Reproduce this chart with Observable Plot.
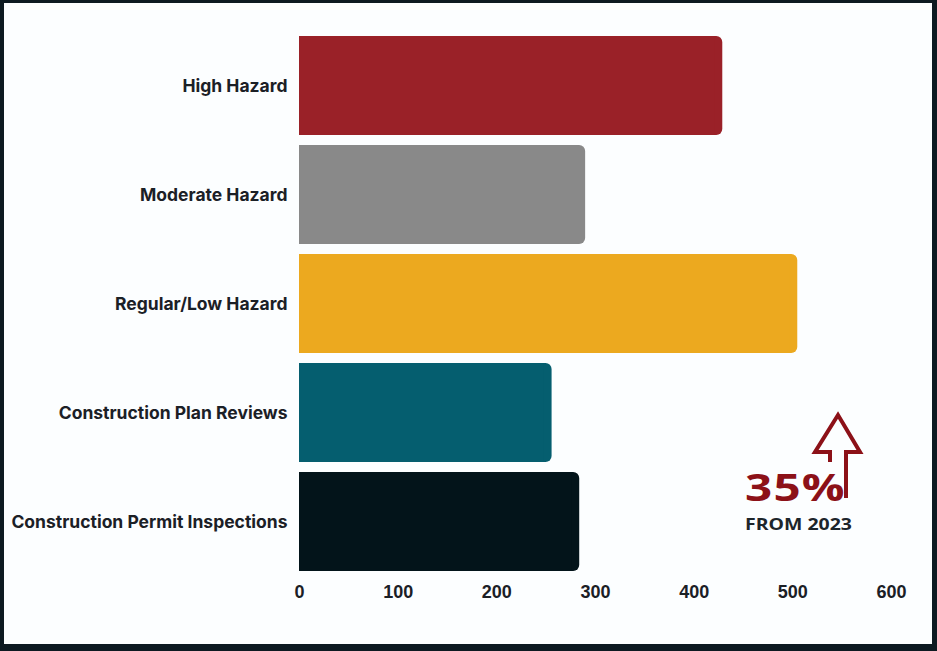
<!DOCTYPE html>
<html>
<head>
<meta charset="utf-8">
<script src="https://cdn.jsdelivr.net/npm/d3@7"></script>
<script src="https://cdn.jsdelivr.net/npm/@observablehq/plot@0.6"></script>
<style>
  html, body { margin: 0; padding: 0; }
  body { width: 937px; height: 651px; background: #0d1a21; position: relative; overflow: hidden; }
  #frame { position: absolute; left: 4px; top: 3px; width: 928px; height: 641px; background: #fcfeff; }
  #chart svg { position: absolute; left: 0; top: 0; background: transparent; }
  #chart g[aria-label="y-axis tick label"] text { font-family: Inter, "Noto Sans", sans-serif; font-weight: 700; font-size: 17.5px; fill: #1b2026; }
  #chart g[aria-label="x-axis tick label"] text { font-family: "Liberation Sans", Arial, sans-serif; font-weight: 700; font-size: 18px; fill: #1b2026; }
  #annot { position: absolute; left: 0; top: 0; }
</style>
</head>
<body>
<div id="frame">
  <div id="chart"></div>
  <svg id="annot" width="928" height="641">
    <path d="M826,459 L826,449 L811,449 L834,412 L856,449 L842,449 L842,495" fill="none" stroke="#8c1118" stroke-width="4" stroke-linejoin="miter"/>
    <text x="741" y="498" transform="translate(741 0) scale(1.25 1) translate(-741 0)" font-family="'Open Sans', sans-serif" font-weight="700" font-size="38" fill="#8c1118" letter-spacing="1">35%</text>
    <text x="741" y="527" transform="translate(741 0) scale(1.18 1) translate(-741 0)" font-family="'Open Sans', sans-serif" font-weight="700" font-size="16.5" fill="#1d252b">FROM 2023</text>
  </svg>
</div>
<script>
const categories = [
  "High Hazard",
  "Moderate Hazard",
  "Regular/Low Hazard",
  "Construction Plan Reviews",
  "Construction Permit Inspections"
];
const values = [429, 290, 505, 256, 284];
const colors = ["#9a2128", "#898989", "#eca91f", "#055e6f", "#03141a"];
const xTicks = [0, 100, 200, 300, 400, 500, 600];

const data = categories.map((c, i) => ({category: c, value: values[i]}));

const chart = Plot.plot({
  width: 928,
  height: 641,
  marginLeft: 295,
  marginRight: 41,
  marginTop: 23,
  marginBottom: 62,
  style: {background: "transparent", overflow: "visible"},
  x: {domain: [0, 600], ticks: xTicks, tickSize: 0, tickPadding: 3, label: null},
  y: {domain: categories, padding: 0.09, tickSize: 0, tickPadding: 12, label: null},
  color: {domain: categories, range: colors},
  marks: [
    Plot.barX(data, {x1: 0, x2: "value", y: "category", fill: "category", rx: 6}),
    Plot.barX(data, {x1: 0, x2: d => d.value - 8, y: "category", fill: "category"})
  ]
});
document.getElementById("chart").appendChild(chart);
</script>
</body>
</html>
